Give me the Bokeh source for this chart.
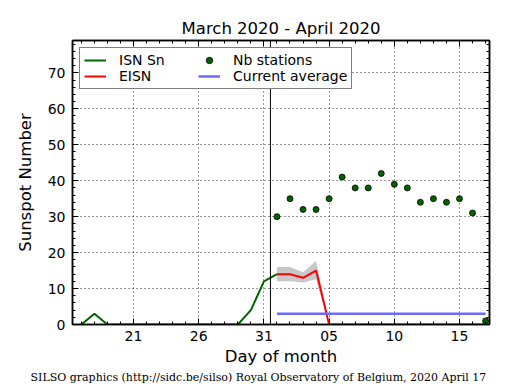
from bokeh.plotting import figure
from bokeh.models import (ColumnDataSource, FixedTicker, SingleIntervalTicker, LinearAxis,
                          Span, Legend, LegendItem, Title, Range1d, CustomJSTickFormatter)
from bokeh.embed import file_html
from bokeh.resources import INLINE

# ---- data (day index: March d -> d, April d -> 31 + d) ----
isn_days = [17, 18, 19, 20, 21, 22, 23, 24, 25, 26, 27, 28, 29, 30, 31, 32]
isn_vals = [0, 3, 0, 0, 0, 0, 0, 0, 0, 0, 0, 0, 0, 4, 12, 14]

eisn_days = [32, 33, 34, 35, 36, 37, 38, 39, 40, 41, 42, 43, 44, 45, 46, 47, 48]
eisn_vals = [14, 14, 13, 15, 0, 0, 0, 0, 0, 0, 0, 0, 0, 0, 0, 0, 0]
eisn_low = [12, 12, 11.7, 12.6, 0, 0, 0, 0, 0, 0, 0, 0, 0, 0, 0, 0, 0]
eisn_high = [16, 16, 14.5, 17.7, 0, 0, 0, 0, 0, 0, 0, 0, 0, 0, 0, 0, 0]
nb_stations = [30, 35, 32, 32, 35, 41, 38, 38, 42, 39, 38, 34, 35, 34, 35, 31, 1]

avg_days = [32, 48]
avg_vals = [3, 3]

month_boundary = 31.5
x_tick_positions = [21, 26, 31, 36, 41, 46]
x_tick_labels = ["21", "26", "31", "05", "10", "15"]
x_minor = list(range(17, 49))

FONT = "DejaVu Sans"

p = figure(frame_width=417, frame_height=284, output_backend="svg", toolbar_location=None,
           x_range=Range1d(16.32, 48.3), y_range=Range1d(0, 79),
           min_border_left=72, min_border_right=18, min_border_top=40, min_border_bottom=62,
           title="March 2020 - April 2020")
p.background_fill_color = "white"
p.border_fill_color = "white"
p.outline_line_color = "black"
p.outline_line_width = 1.5

p.title.align = "center"
p.title.text_font = FONT
p.title.text_font_size = "16.5px"
p.title.text_font_style = "normal"
p.title.text_color = "black"
p.title.standoff = 6

eisn_src = ColumnDataSource(dict(x=eisn_days, y=eisn_vals, lo=eisn_low, hi=eisn_high, n=nb_stations))

band = p.varea(x="x", y1="lo", y2="hi", source=eisn_src, fill_color="#c8c8c8", fill_alpha=1.0)
r_isn = p.line(isn_days, isn_vals, line_color="#006400", line_width=2)
r_eisn = p.line(x="x", y="y", source=eisn_src, line_color="#ff0000", line_width=2)
r_avg = p.line(avg_days, avg_vals, line_color="#6b6bff", line_width=2.5)
r_nb = p.scatter(x="x", y="n", source=eisn_src, size=6, fill_color="#006400", line_color="black",
                 line_width=0.8)

p.add_layout(Span(location=month_boundary, dimension="height", line_color="black", line_width=1))

# axes styling
def style_axis(ax, labels=True):
    ax.axis_line_color = "black"
    ax.axis_line_width = 1.5
    ax.major_tick_in = 6
    ax.major_tick_out = 0
    ax.minor_tick_in = 3
    ax.minor_tick_out = 0
    ax.major_tick_line_color = "black"
    ax.minor_tick_line_color = "black"
    ax.major_label_text_font = FONT
    ax.major_label_text_color = "black"
    if labels:
        ax.major_label_text_font_size = "14px"
    else:
        ax.formatter = CustomJSTickFormatter(code="return ''")
        ax.major_label_text_font_size = "0px"
        ax.major_label_standoff = 0

xt = FixedTicker(ticks=x_tick_positions, minor_ticks=x_minor)
yt = SingleIntervalTicker(interval=10, num_minor_ticks=5)

p.xaxis.ticker = xt
p.xaxis.major_label_overrides = {t: l for t, l in zip(x_tick_positions, x_tick_labels)}
p.yaxis.ticker = yt
style_axis(p.xaxis[0])
style_axis(p.yaxis[0])
p.xaxis.major_label_standoff = 6
p.yaxis.major_label_standoff = 7
p.xaxis.axis_label = "Day of month"
p.yaxis.axis_label = "Sunspot Number"
for ax in (p.xaxis[0], p.yaxis[0]):
    ax.axis_label_text_font = FONT
    ax.axis_label_text_font_size = "16.5px"
    ax.axis_label_text_font_style = "normal"
    ax.axis_label_text_color = "black"
p.xaxis.axis_label_standoff = 3
p.yaxis.axis_label_standoff = 10

top_ax = LinearAxis(ticker=xt)
right_ax = LinearAxis(ticker=yt)
style_axis(top_ax, labels=False)
style_axis(right_ax, labels=False)
p.add_layout(top_ax, "above")
p.add_layout(right_ax, "right")

p.xgrid.ticker = xt
p.ygrid.ticker = yt
for g in (p.xgrid[0], p.ygrid[0]):
    g.grid_line_color = "black"
    g.grid_line_dash = "1 3"
    g.grid_line_width = 1
    g.grid_line_alpha = 0.8

legend = Legend(items=[
    LegendItem(label="ISN Sn", renderers=[r_isn]),
    LegendItem(label="EISN", renderers=[r_eisn]),
    LegendItem(label="Nb stations", renderers=[r_nb]),
    LegendItem(label="Current average", renderers=[r_avg]),
], location="top_left", ncols=2)
legend.label_text_font = FONT
legend.label_text_font_size = "14px"
legend.label_text_color = "black"
legend.border_line_color = "black"
legend.border_line_width = 1.5
legend.background_fill_alpha = 1.0
legend.margin = 7
legend.padding = 4
legend.spacing = 0
legend.glyph_width = 22
legend.glyph_height = 16
legend.label_height = 16
legend.label_width = 79
legend.label_standoff = 13
legend.label_text_baseline = "middle"
p.add_layout(legend, "center")

footer = Title(text="SILSO graphics (http://sidc.be/silso) Royal Observatory of Belgium, 2020 April 17",
               align="left", text_font="DejaVu Serif", text_font_size="11px",
               text_font_style="normal", text_color="black", offset=-42, standoff=0)
p.add_layout(footer, "below")

open("out.html", "w").write(file_html(p, INLINE))
